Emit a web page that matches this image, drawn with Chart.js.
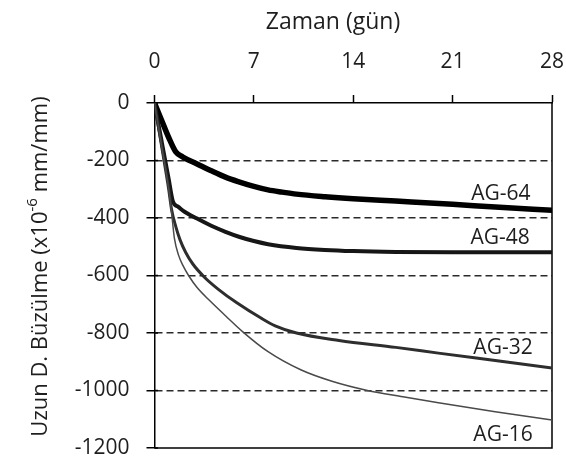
<!DOCTYPE html>
<html>
<head>
<meta charset="utf-8">
<script src="https://cdn.jsdelivr.net/npm/chart.js@4/dist/chart.umd.min.js"></script>
<style>
  html, body { margin: 0; padding: 0; background: #fff; }
  #c { display: block; }
</style>
</head>
<body>
<canvas id="c" width="566" height="475"></canvas>
<script>
// Shrinkage (x10^-6 mm/mm) versus age (days) for four mixes
const days64 = [0, 0.5, 1, 1.5, 2, 3, 4, 5, 6, 7, 8, 9, 10, 12, 14, 17, 21, 24, 28];
const ag64   = [0, -60, -120, -170, -188, -212, -236, -258, -275, -290, -302, -310, -317, -326, -333, -341, -352, -362, -373];

const days48 = [0, 0.5, 1, 1.3, 1.7, 2, 3, 4, 5, 6, 7, 8, 10, 12, 14, 17, 21, 28];
const ag48   = [0, -133, -265, -343, -362, -374, -402, -427, -448, -466, -480, -491, -504, -511, -515, -518, -519, -519];

const days32 = [0, 0.5, 1, 1.2, 1.5, 1.8, 2.2, 2.7, 3.5, 4.5, 5.8, 7.5, 8.5, 10, 13, 17, 20, 24, 28];
const ag32   = [0, -150, -300, -370, -430, -476, -520, -560, -605, -648, -695, -748, -775, -800, -826, -850, -870, -896, -922];

const days16 = [0, 0.5, 1, 1.2, 1.4, 1.7, 2, 2.4, 3, 3.9, 5, 6.2, 8, 10.3, 12.5, 15, 17.5, 20, 24, 28];
const ag16   = [0, -150, -300, -380, -470, -530, -565, -600, -642, -688, -740, -795, -865, -928, -968, -1000, -1022, -1043, -1074, -1103];

const xTicks = [0, 7, 14, 21, 28];
const yTicks = [0, -200, -400, -600, -800, -1000, -1200];

// In-plot series names and where they sit (day, value)
const labelNames  = ['AG-64', 'AG-48', 'AG-32', 'AG-16'];
const labelDays   = [24.4, 24.35, 24.55, 24.55];
const labelValues = [-317, -470, -852, -1155];

const FONT = '"Open Sans", Lato, sans-serif';
const TEXT = '#1e1e1e';

const toPoints = (xs, ys) => xs.map((d, i) => ({ x: d, y: ys[i] }));

const series = [
  { label: 'AG-16', data: toPoints(days16, ag16), borderColor: '#4a4a4a', borderWidth: 1.5 },
  { label: 'AG-32', data: toPoints(days32, ag32), borderColor: '#2e2e2e', borderWidth: 3 },
  { label: 'AG-48', data: toPoints(days48, ag48), borderColor: '#161616', borderWidth: 4 },
  { label: 'AG-64', data: toPoints(days64, ag64), borderColor: '#000000', borderWidth: 5.5 }
];

const decor = {
  id: 'decor',
  beforeDatasetsDraw(chart) {
    const { ctx, chartArea: a, scales: { y } } = chart;
    ctx.save();
    ctx.strokeStyle = '#000';
    ctx.lineWidth = 1.5;
    // right and bottom frame
    ctx.beginPath();
    ctx.moveTo(a.right, a.top);
    ctx.lineTo(a.right, a.bottom);
    ctx.lineTo(a.left, a.bottom);
    ctx.stroke();
    // small inner part of the y tick marks
    ctx.beginPath();
    yTicks.forEach(v => {
      const py = y.getPixelForValue(v);
      ctx.moveTo(a.left, py);
      ctx.lineTo(a.left + 3.5, py);
    });
    ctx.stroke();
    ctx.restore();
  },
  afterDraw(chart) {
    const { ctx, scales: { x, y } } = chart;
    ctx.save();
    ctx.fillStyle = TEXT;
    // series names
    ctx.font = '21px ' + FONT;
    ctx.textAlign = 'center';
    ctx.textBaseline = 'middle';
    labelNames.forEach((n, i) => {
      ctx.fillText(n, x.getPixelForValue(labelDays[i]), y.getPixelForValue(labelValues[i]));
    });
    // x axis title
    ctx.font = '23px ' + FONT;
    ctx.fillText('Zaman (gün)', 333, 22);
    // y axis title with superscript exponent
    const parts = [
      { t: 'Uzun D. Büzülme (x10', f: '22px ' + FONT, dy: 0 },
      { t: '-6', f: '15px ' + FONT, dy: -8 },
      { t: ' mm/mm)', f: '22px ' + FONT, dy: 0 }
    ];
    let total = 0;
    parts.forEach(p => { ctx.font = p.f; p.w = ctx.measureText(p.t).width; total += p.w; });
    ctx.translate(41, 266.5);
    ctx.rotate(-Math.PI / 2);
    ctx.textAlign = 'left';
    let cx = -total / 2;
    parts.forEach(p => {
      ctx.font = p.f;
      ctx.fillText(p.t, cx, p.dy);
      cx += p.w;
    });
    ctx.restore();
  }
};

new Chart(document.getElementById('c'), {
  type: 'line',
  data: {
    datasets: series.map(s => Object.assign({
      pointRadius: 0,
      fill: false,
      cubicInterpolationMode: 'monotone',
      borderJoinStyle: 'round',
      borderCapStyle: 'round'
    }, s))
  },
  options: {
    responsive: false,
    animation: false,
    devicePixelRatio: 1,
    layout: { padding: { left: 0, top: 0, right: 14, bottom: 27 } },
    plugins: { legend: { display: false }, tooltip: { enabled: false } },
    scales: {
      x: {
        type: 'linear',
        position: 'top',
        min: 0,
        max: 28,
        afterBuildTicks: s => { s.ticks = xTicks.map(v => ({ value: v })); },
        afterFit: s => { s.height = 103; s.paddingLeft = 0; s.paddingRight = 0; },
        ticks: { color: TEXT, font: { family: FONT, size: 21 }, padding: 20, maxRotation: 0 },
        grid: { drawOnChartArea: false, tickLength: 8, tickColor: '#000', tickWidth: 1.5 },
        border: { color: '#000', width: 1.5 }
      },
      y: {
        type: 'linear',
        min: -1200,
        max: 0,
        afterBuildTicks: s => { s.ticks = yTicks.map(v => ({ value: v })); },
        afterFit: s => { s.width = 154.5; s.paddingTop = 0; s.paddingBottom = 0; },
        ticks: {
          color: TEXT,
          font: { family: FONT, size: 21 },
          padding: 17,
          callback: v => String(v)
        },
        grid: {
          color: c => (c.tick && c.tick.value > -1200 && c.tick.value < 0) ? '#2a2a2a' : 'rgba(0,0,0,0)',
          lineWidth: 1.5,
          tickLength: 8,
          tickColor: '#000',
          tickWidth: 1.5,
          tickBorderDash: []
        },
        border: { color: '#000', width: 1.5, dash: [7, 4] }
      }
    }
  },
  plugins: [decor]
});
</script>
</body>
</html>
